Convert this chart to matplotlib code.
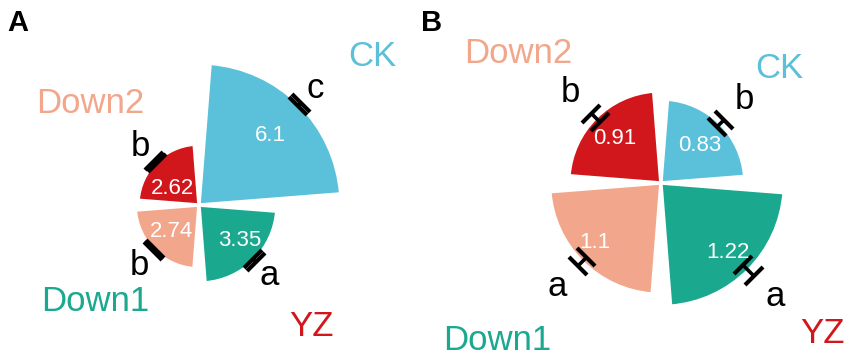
import numpy as np
import matplotlib.pyplot as plt

plt.rcParams['font.family'] = ['Liberation Sans', 'DejaVu Sans']

groups = ['CK', 'Down2', 'Down1', 'YZ']
angles_deg = [45, 135, 225, 315]

# panel A
vals_a = [6.1, 2.62, 2.74, 3.35]
err_a = [0.1, 0.08, 0.05, 0.09]
sig_a = ['c', 'b', 'b', 'a']
# panel B
vals_b = [0.83, 0.91, 1.1, 1.22]
err_b = [0.05, 0.06, 0.06, 0.08]
sig_b = ['b', 'b', 'a', 'a']

bar_colors = ['#5BC0DA', '#D2171C', '#F2A68B', '#1AA98F']
name_colors = ['#5BC0DA', '#F2A68B', '#1AA98F', '#D2171C']

# group-name positions (angle in deg, radius in data units)
name_pos_a = [(40.5, 9.8), (137, 6.4), (223, 6.1), (313, 7.1)]
name_pos_b = [(44, 1.63), (137.7, 1.9), (224, 2.24), (317, 2.18)]
# value-label positions (angle in deg, fraction of bar length)
val_pos_a = [(44, 0.70), (148, 0.52), (224, 0.60), (319, 0.69)]
val_pos_b = [(44, 0.65), (136, 0.70), (222, 0.80), (314, 0.78)]

fig = plt.figure(figsize=(8.51, 3.61), dpi=100)


def rose(rect, vals, errs, sigs, rmax, pad, name_pos, val_pos):
    ax = fig.add_axes(rect, projection='polar')
    th = np.deg2rad(angles_deg)
    ax.bar(th, vals, width=np.deg2rad(81), color=bar_colors,
           edgecolor='white', linewidth=2.5, zorder=2)
    ax.errorbar(th, vals, yerr=errs, fmt='none', ecolor='black',
                elinewidth=2.6, capsize=9, capthick=3, zorder=3)
    for t, v, e, s, (va, fr) in zip(th, vals, errs, sigs, val_pos):
        ax.text(np.deg2rad(va), v * fr, f'{v:g}', color='white', fontsize=16,
                ha='center', va='center', zorder=4)
        ax.text(t, v + e + pad, s, color='black', fontsize=25,
                ha='center', va='center', zorder=4)
    for (a, r), g, c in zip(name_pos, groups, name_colors):
        ax.text(np.deg2rad(a), r, g, color=c, fontsize=25,
                ha='center', va='center')
    ax.set_ylim(0, rmax)
    ax.set_axis_off()
    return ax


rose([0.0558, 0.0125, 0.356, 0.839], vals_a, err_a, sig_a, 6.5, 0.85,
     name_pos_a, val_pos_a)
rose([0.5981, 0.0721, 0.357, 0.842], vals_b, err_b, sig_b, 1.5, 0.29,
     name_pos_b, val_pos_b)

fig.text(0.008, 0.935, 'A', fontsize=21, fontweight='bold', va='center')
fig.text(0.495, 0.935, 'B', fontsize=21, fontweight='bold', va='center')

fig.savefig('out.png', dpi=100)
